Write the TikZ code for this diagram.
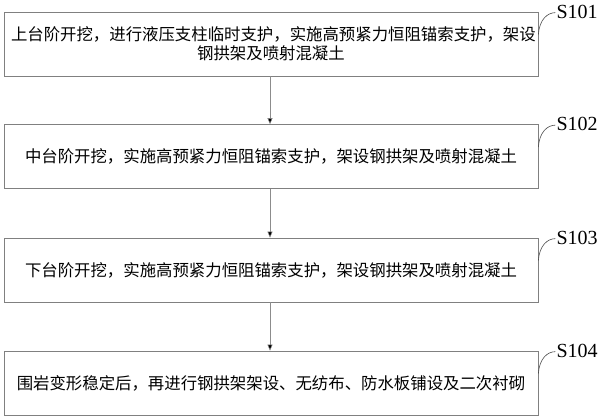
\documentclass[tikz,border=0pt]{standalone}
\usepackage{fontspec}
\setmainfont{Liberation Serif}
\newfontfamily\cjk{Noto Sans CJK SC}
\usetikzlibrary{calc,arrows.meta}
\tikzset{
  stepbox/.style={draw=black!50, line width=0.7pt, minimum width=534pt, minimum height=64pt,
    inner sep=0pt, align=center, text width=520pt, font=\cjk\fontsize{16.4}{19}\selectfont},
  steplabel/.style={anchor=west, inner sep=1pt, font=\fontsize{20}{22}\selectfont},
  flow/.style={draw=black!45, line width=0.5pt, -{Triangle[width=5pt,length=6pt,fill=black]}},
  leader/.style={draw=black!70, line width=0.6pt}
}
\begin{document}
\begin{tikzpicture}[x=1pt,y=-1pt]
\useasboundingbox (0,0) rectangle (600,420);
\node[stepbox] (b1) at (271,44) {上台阶开挖，进行液压支柱临时支护，实施高预紧力恒阻锚索支护，架设\\钢拱架及喷射混凝土};
\node[stepbox] (b2) at (271,156.5) {中台阶开挖，实施高预紧力恒阻锚索支护，架设钢拱架及喷射混凝土};
\node[stepbox] (b3) at (271,270) {下台阶开挖，实施高预紧力恒阻锚索支护，架设钢拱架及喷射混凝土};
\node[stepbox] (b4) at (271,383) {围岩变形稳定后，再进行钢拱架架设、无纺布、防水板铺设及二次衬砌};
\draw[flow] (b1.south -| 270,0) -- (b2.north -| 270,0);
\draw[flow] (b2.south -| 270,0) -- (b3.north -| 270,0);
\draw[flow] (b3.south -| 270,0) -- (b4.north -| 270,0);
\foreach \i/\t in {1/S101,2/S102,3/S103,4/S104}{
  \node[steplabel] (l\i) at ($(b\i.north east)+(17,0)$) {\t};
  \draw[leader] ($(b\i.north east)+(0,23)$) .. controls +(1,-15) and +(-8,0) .. ($(l\i.west)+(0,1)$);
}
\end{tikzpicture}
\end{document}
